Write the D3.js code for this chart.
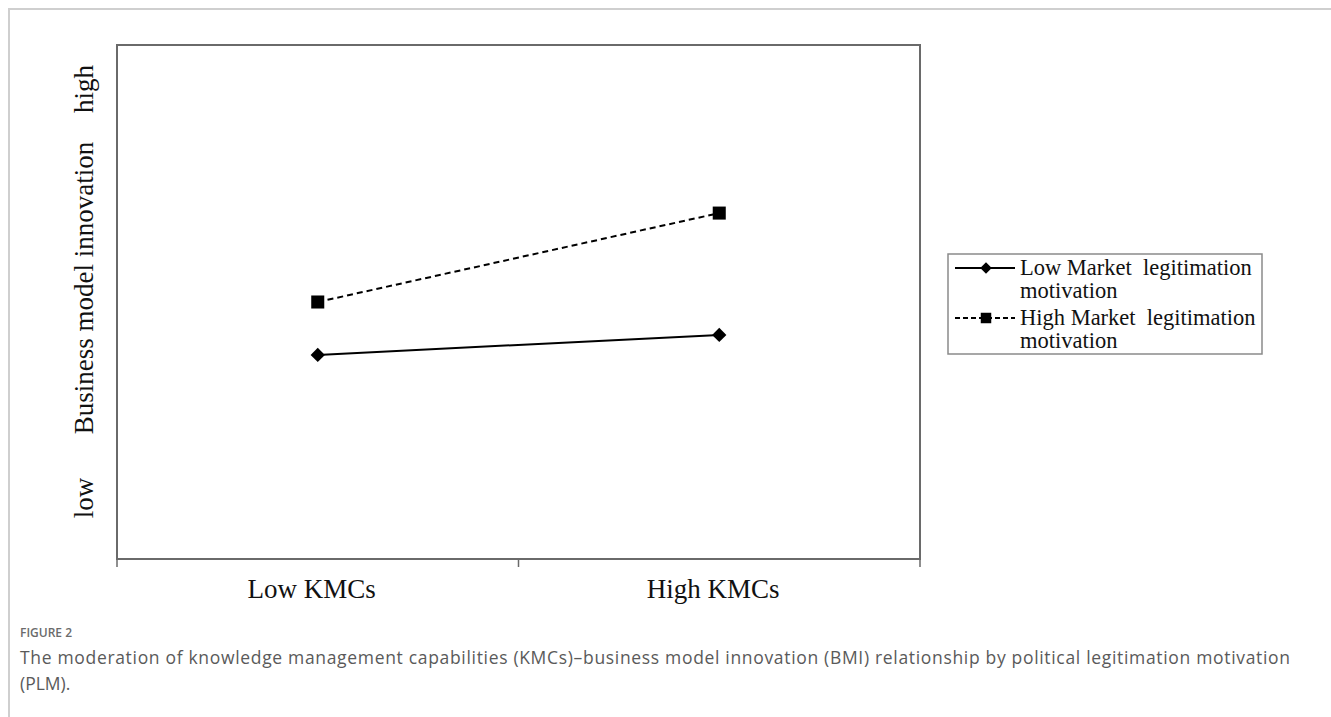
<!DOCTYPE html>
<html>
<head>
<meta charset="utf-8">
<script src="https://cdn.jsdelivr.net/npm/d3@7"></script>
<style>
  html, body { margin: 0; padding: 0; background: #fff; }
  svg { display: block; }
</style>
</head>
<body>
<svg id="chart" width="1331" height="717"></svg>
<script>
// ---- data ----
const categories = ["Low KMCs", "High KMCs"];
const lowMarket = [3.97, 4.36];   // Low Market legitimation motivation
const highMarket = [5.0, 6.73];   // High Market legitimation motivation
const seriesNames = ["Low Market  legitimation|motivation", "High Market  legitimation|motivation"];
const yLevelLabels = ["low", "Business model innovation", "high"];
const captionTitle = "FIGURE 2";
const captionLines = [
  "The moderation of knowledge management capabilities (KMCs)\u2013business model innovation (BMI) relationship by political legitimation motivation",
  "(PLM)."
];

const svg = d3.select("#chart");
const serif = "'Liberation Serif', 'Times New Roman', serif";

// outer card border (top + left)
svg.append("path")
  .attr("d", "M9,717 V9 H1331")
  .attr("fill", "none").attr("stroke", "#cfcfcf").attr("stroke-width", 2);

const plot = { left: 117, top: 45, right: 920, bottom: 559 };

const x = d3.scaleBand().domain(categories).range([plot.left, plot.right]);
const y = d3.scaleLinear().domain([0, 10]).range([plot.bottom, plot.top]);

// plot frame
svg.append("rect")
  .attr("x", plot.left).attr("y", plot.top)
  .attr("width", plot.right - plot.left).attr("height", plot.bottom - plot.top)
  .attr("fill", "none").attr("stroke", "#6a6a6a").attr("stroke-width", 2);

// x axis with tick marks at band boundaries
const xAxisG = svg.append("g").attr("transform", `translate(0,${plot.bottom})`);
const bounds = [plot.left].concat(categories.map(c => x(c) + x.bandwidth()));
xAxisG.selectAll("line.tick").data(bounds).join("line")
  .attr("x1", d => d).attr("x2", d => d).attr("y1", 0).attr("y2", 8)
  .attr("stroke", "#6a6a6a").attr("stroke-width", 1.5);
xAxisG.selectAll("text").data(categories).join("text")
  .attr("x", d => x(d) + x.bandwidth() / 2 - 6)
  .attr("y", 39)
  .attr("text-anchor", "middle")
  .attr("font-family", serif).attr("font-size", 27).attr("fill", "#111")
  .text(d => d);

// y axis level labels (rotated)
const yLabelPos = [498, 288, 89];
svg.selectAll("text.ylab").data(yLevelLabels).join("text")
  .attr("class", "ylab")
  .attr("transform", (d, i) => `translate(93,${yLabelPos[i]}) rotate(-90)`)
  .attr("text-anchor", "middle")
  .attr("font-family", serif).attr("font-size", 27).attr("fill", "#111")
  .text(d => d);

// lines
const line = d3.line()
  .x((d, i) => x(categories[i]) + x.bandwidth() / 2)
  .y(d => y(d));

svg.append("path").datum(lowMarket)
  .attr("d", line).attr("fill", "none").attr("stroke", "#000").attr("stroke-width", 2);
svg.append("path").datum(highMarket)
  .attr("d", line).attr("fill", "none").attr("stroke", "#000").attr("stroke-width", 2)
  .attr("stroke-dasharray", "6,4");

const diamond = d3.symbol().type(d3.symbolDiamond2).size(130);
const square = d3.symbol().type(d3.symbolSquare).size(170);

svg.selectAll("path.lowpt").data(lowMarket).join("path")
  .attr("class", "lowpt")
  .attr("transform", (d, i) => `translate(${x(categories[i]) + x.bandwidth() / 2},${y(d)})`)
  .attr("d", diamond).attr("fill", "#000");
svg.selectAll("path.highpt").data(highMarket).join("path")
  .attr("class", "highpt")
  .attr("transform", (d, i) => `translate(${x(categories[i]) + x.bandwidth() / 2},${y(d)})`)
  .attr("d", square).attr("fill", "#000");

// legend
const lg = svg.append("g").attr("transform", "translate(948,254)");
lg.append("rect").attr("x", 0).attr("y", 0).attr("width", 314).attr("height", 100)
  .attr("fill", "#fff").attr("stroke", "#8a8a8a").attr("stroke-width", 1.5);
const legendItems = [
  { name: seriesNames[0], dash: null, sym: d3.symbol().type(d3.symbolDiamond2).size(85) },
  { name: seriesNames[1], dash: "5,3", sym: d3.symbol().type(d3.symbolSquare).size(110) }
];
legendItems.forEach((it, i) => {
  const gy = 14 + i * 50;
  lg.append("line").attr("x1", 7).attr("x2", 67).attr("y1", gy).attr("y2", gy)
    .attr("stroke", "#000").attr("stroke-width", 2)
    .attr("stroke-dasharray", it.dash);
  lg.append("path").attr("transform", `translate(38,${gy})`)
    .attr("d", it.sym).attr("fill", "#000");
  const parts = it.name.split("|");
  parts.forEach((p, j) => {
    lg.append("text").attr("x", 72).attr("y", gy + 7 + j * 23)
      .attr("font-family", serif).attr("font-size", 22.5).attr("fill", "#111")
      .style("white-space", "pre")
      .text(p);
  });
});

// caption
const sans = "'Open Sans', 'Noto Sans', sans-serif";
svg.append("text").attr("x", 20).attr("y", 637)
  .attr("font-family", sans).attr("font-size", 12).attr("font-weight", 600)
  .attr("fill", "#6b6b6b").text(captionTitle);
svg.selectAll("text.cap").data(captionLines).join("text")
  .attr("class", "cap")
  .attr("x", 20).attr("y", (d, i) => 664 + i * 26)
  .attr("font-family", sans).attr("font-size", 17.5)
  .attr("fill", "#5a5a5a")
  .attr("textLength", (d, i) => i === 0 ? 1270 : null)
  .attr("lengthAdjust", "spacing")
  .text(d => d);
</script>
</body>
</html>
